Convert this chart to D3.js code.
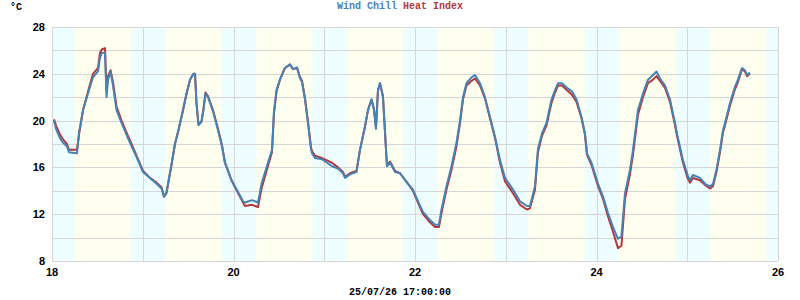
<!DOCTYPE html>
<html>
<head>
<meta charset="utf-8">
<script src="https://cdn.jsdelivr.net/npm/d3@7"></script>
<style>
  body { margin: 0; background: #fff; }
  .tick-label { font-family: "Liberation Sans", Arial, sans-serif; font-weight: bold; font-size: 11px; fill: #000; }
  .mono { font-family: "Liberation Mono", "DejaVu Sans Mono", monospace; font-weight: bold; font-size: 10px; }
  .grid-line { stroke: #d6d6d6; stroke-width: 1; shape-rendering: crispEdges; }
  .series { fill: none; stroke-width: 2; stroke-linejoin: round; }
</style>
</head>
<body>
<div id="chart"></div>
<script>
//////////////////////////////////////////////////////////////
//////////////////////// Data ////////////////////////////////
//////////////////////////////////////////////////////////////

// time in days of the month (18 = 18th 00:00)
const times = [18.022,18.044,18.088,18.121,18.165,18.187,18.275,18.298,18.342,18.419,18.452,18.507,18.529,18.551,18.584,18.601,18.617,18.645,18.672,18.711,18.766,18.837,18.860,18.931,
  19.003,19.080,19.152,19.207,19.234,19.262,19.317,19.355,19.394,19.444,19.482,19.521,19.559,19.576,19.592,19.614,19.647,19.669,19.691,19.719,19.774,19.829,19.873,19.906,19.978,
  20.050,20.105,20.127,20.204,20.270,20.309,20.364,20.424,20.446,20.474,20.512,20.567,20.623,20.656,20.700,20.733,20.755,20.788,20.821,20.854,20.865,20.898,20.975,
  21.030,21.085,21.152,21.207,21.229,21.284,21.355,21.394,21.449,21.482,21.521,21.548,21.570,21.592,21.614,21.647,21.680,21.691,21.725,21.780,21.835,21.923,21.978,
  22.033,22.088,22.165,22.220,22.264,22.292,22.347,22.402,22.457,22.496,22.529,22.567,22.623,22.661,22.716,22.771,22.826,22.882,22.937,22.992,
  23.080,23.157,23.234,23.267,23.322,23.355,23.399,23.449,23.504,23.543,23.576,23.620,23.675,23.730,23.780,23.835,23.873,23.895,23.945,
  24.017,24.072,24.127,24.182,24.237,24.275,24.314,24.369,24.402,24.457,24.512,24.567,24.623,24.661,24.700,24.755,24.810,24.865,24.887,24.953,
  25.008,25.030,25.063,25.140,25.196,25.251,25.284,25.322,25.361,25.394,25.416,25.471,25.526,25.559,25.603,25.636,25.658,25.691]

const windChill = [20.0,19.3,18.5,18.1,17.8,17.3,17.2,19.0,20.9,22.9,23.7,24.2,25.4,25.8,25.8,22.0,23.5,24.2,23.0,20.9,19.8,18.5,18.1,16.9,
  15.6,15.1,14.6,14.2,13.5,13.9,16.3,18.0,19.2,20.9,22.3,23.5,24.0,24.0,21.5,19.6,19.9,20.9,22.3,22.0,20.8,19.2,17.8,16.4,14.9,
  13.9,13.1,13.0,13.2,13.0,14.6,16.0,17.5,20.8,22.6,23.5,24.5,24.8,24.4,24.55,23.6,23.3,21.8,19.8,17.6,17.2,16.8,16.7,
  16.4,16.1,15.9,15.5,15.1,15.4,15.6,17.5,19.5,20.9,21.8,20.9,19.3,22.6,23.2,22.0,17.6,16.1,16.4,15.6,15.5,14.6,14.1,
  13.1,12.2,11.5,11.1,11.1,12.4,14.4,16.1,18.1,20.0,22.0,23.2,23.7,23.9,23.2,22.0,20.3,18.6,16.6,15.1,
  14.1,13.1,12.7,12.7,14.4,17.6,18.9,19.8,21.8,22.6,23.2,23.2,22.8,22.5,21.8,20.3,18.9,17.2,16.4,
  14.6,13.5,12.1,10.9,9.9,10.1,13.8,15.8,17.5,20.9,22.3,23.5,23.9,24.2,23.6,23.0,21.8,19.8,18.9,16.6,
  15.25,14.9,15.35,15.1,14.6,14.35,14.6,15.8,17.5,19.2,19.8,21.5,22.9,23.5,24.5,24.3,23.9,24.1]

const heatIndex = [20.1,19.6,18.8,18.4,18.0,17.5,17.5,18.8,20.9,23.1,24.0,24.5,25.8,26.1,26.2,22.6,23.8,24.3,23.3,21.2,20.0,18.7,18.3,17.0,
  15.7,15.1,14.7,14.3,13.5,13.8,16.2,18.0,19.2,20.9,22.3,23.5,24.0,24.0,21.5,19.7,19.9,21.0,22.4,22.1,20.9,19.3,17.9,16.4,14.9,
  13.8,13.0,12.7,12.8,12.6,14.2,15.7,17.3,20.6,22.5,23.5,24.5,24.8,24.4,24.5,23.7,23.4,21.9,19.9,17.7,17.4,17.0,16.8,
  16.6,16.4,16.0,15.6,15.2,15.5,15.7,17.5,19.5,20.9,21.8,21.0,19.4,22.6,23.2,22.1,17.6,16.2,16.5,15.7,15.5,14.6,14.0,
  13.0,12.0,11.3,10.9,10.9,12.1,14.1,15.8,17.8,19.8,21.8,23.0,23.4,23.6,23.0,21.9,20.2,18.5,16.4,14.8,
  13.8,12.8,12.4,12.5,14.1,17.3,18.7,19.6,21.5,22.4,23.0,23.0,22.6,22.2,21.6,20.2,18.8,17.1,16.2,
  14.4,13.3,11.8,10.5,9.1,9.3,13.3,15.4,17.1,20.5,22.0,23.2,23.5,23.8,23.4,22.8,21.6,19.6,18.7,16.4,
  15.0,14.7,15.1,14.9,14.5,14.2,14.4,15.6,17.3,19.0,19.6,21.3,22.7,23.3,24.4,24.2,23.8,24.0]

// daylight (sunrise / sunset)
const sunrise = [18.25,19.25,20.25,21.25,22.25,23.25,24.25,25.25]
const sunset = [18.87,19.87,20.87,21.865,22.87,23.87,24.875,25.87]

const xTicks = [18,19,20,21,22,23,24,25,26]
const xLabels = [18,20,22,24,26]
const yTicks = [8,10,12,14,16,18,20,22,24,26,28]
const yLabels = [8,12,16,20,24,28]

const seriesNames = ["Wind Chill", "Heat Index"]
const unitLabel = "°C"
const footerLabel = "25/07/26 17:00:00"

//Colors
const colorBlue = "#4682b4"
const colorRed = "#b3373b"
const colorNight = "#eefdff"
const colorDay = "#fffff0"

//////////////////////////////////////////////////////////////
//////////////////////// Create SVG //////////////////////////
//////////////////////////////////////////////////////////////

const W = 800, H = 300
const plot = { left: 52, right: 778, top: 27, bottom: 261 }

const svg = d3.select("#chart")
    .append("svg")
    .attr("width", W)
    .attr("height", H)

//////////////////////////////////////////////////////////////
////////////////////// Create scales /////////////////////////
//////////////////////////////////////////////////////////////

const x = d3.scaleLinear().domain([18, 26]).range([plot.left, plot.right])
const y = d3.scaleLinear().domain([8, 28]).range([plot.bottom, plot.top])

//////////////////////////////////////////////////////////////
////////////////////// Day/night background //////////////////
//////////////////////////////////////////////////////////////

const defs = svg.append("defs")
const grad = defs.append("linearGradient")
    .attr("id", "daynight")
    .attr("gradientUnits", "userSpaceOnUse")
    .attr("x1", plot.left).attr("x2", plot.right)
    .attr("y1", 0).attr("y2", 0)

const fade = 0.02
const off = t => Math.max(0, Math.min(1, (t - 18) / 8))
let stops = [{o: 0, c: colorNight}]
sunrise.forEach((sr, i) => {
    stops.push({o: off(sr - fade), c: colorNight})
    stops.push({o: off(sr + fade), c: colorDay})
    stops.push({o: off(sunset[i] - fade), c: colorDay})
    stops.push({o: off(sunset[i] + fade), c: colorNight})
})
stops.push({o: 1, c: colorNight})
grad.selectAll("stop")
    .data(stops)
    .enter().append("stop")
    .attr("offset", d => d.o)
    .attr("stop-color", d => d.c)

svg.append("rect")
    .attr("x", plot.left).attr("y", plot.top)
    .attr("width", plot.right - plot.left)
    .attr("height", plot.bottom - plot.top)
    .style("fill", "url(#daynight)")

//////////////////////////////////////////////////////////////
///////////////////// Draw gridlines /////////////////////////
//////////////////////////////////////////////////////////////

const grid = svg.append("g").attr("class", "grid")

grid.selectAll(".h-line")
    .data(yTicks)
    .enter().append("line")
    .attr("class", "grid-line")
    .attr("x1", plot.left).attr("x2", plot.right)
    .attr("y1", d => Math.round(y(d)) + 0.5).attr("y2", d => Math.round(y(d)) + 0.5)

grid.selectAll(".v-line")
    .data(xTicks)
    .enter().append("line")
    .attr("class", "grid-line")
    .attr("y1", plot.top).attr("y2", plot.bottom)
    .attr("x1", d => Math.round(x(d)) + 0.5).attr("x2", d => Math.round(x(d)) + 0.5)

//////////////////////////////////////////////////////////////
///////////////////////// Axis labels ////////////////////////
//////////////////////////////////////////////////////////////

svg.selectAll(".y-label")
    .data(yLabels)
    .enter().append("text")
    .attr("class", "tick-label")
    .attr("x", plot.left - 7)
    .attr("y", d => y(d) + 4)
    .attr("text-anchor", "end")
    .text(d => d)

svg.selectAll(".x-label")
    .data(xLabels)
    .enter().append("text")
    .attr("class", "tick-label")
    .attr("x", d => x(d))
    .attr("y", plot.bottom + 15)
    .attr("text-anchor", "middle")
    .text(d => d)

svg.append("text")
    .attr("class", "mono")
    .attr("x", 10).attr("y", 10)
    .text(unitLabel)

const title = svg.append("text")
    .attr("class", "mono")
    .attr("x", W / 2).attr("y", 9)
    .attr("text-anchor", "middle")
title.append("tspan").style("fill", colorBlue).text(seriesNames[0])
title.append("tspan").style("fill", colorRed).text(" " + seriesNames[1])

svg.append("text")
    .attr("class", "mono")
    .attr("x", W / 2).attr("y", 295)
    .attr("text-anchor", "middle")
    .text(footerLabel)

//////////////////////////////////////////////////////////////
///////////////////////// Draw lines /////////////////////////
//////////////////////////////////////////////////////////////

const line = d3.line()
    .x(d => x(d[0]))
    .y(d => y(d[1]))

svg.append("path")
    .attr("class", "series")
    .attr("d", line(d3.zip(times, heatIndex)))
    .style("stroke", colorRed)

svg.append("path")
    .attr("class", "series")
    .attr("d", line(d3.zip(times, windChill)))
    .style("stroke", colorBlue)
</script>
</body>
</html>
